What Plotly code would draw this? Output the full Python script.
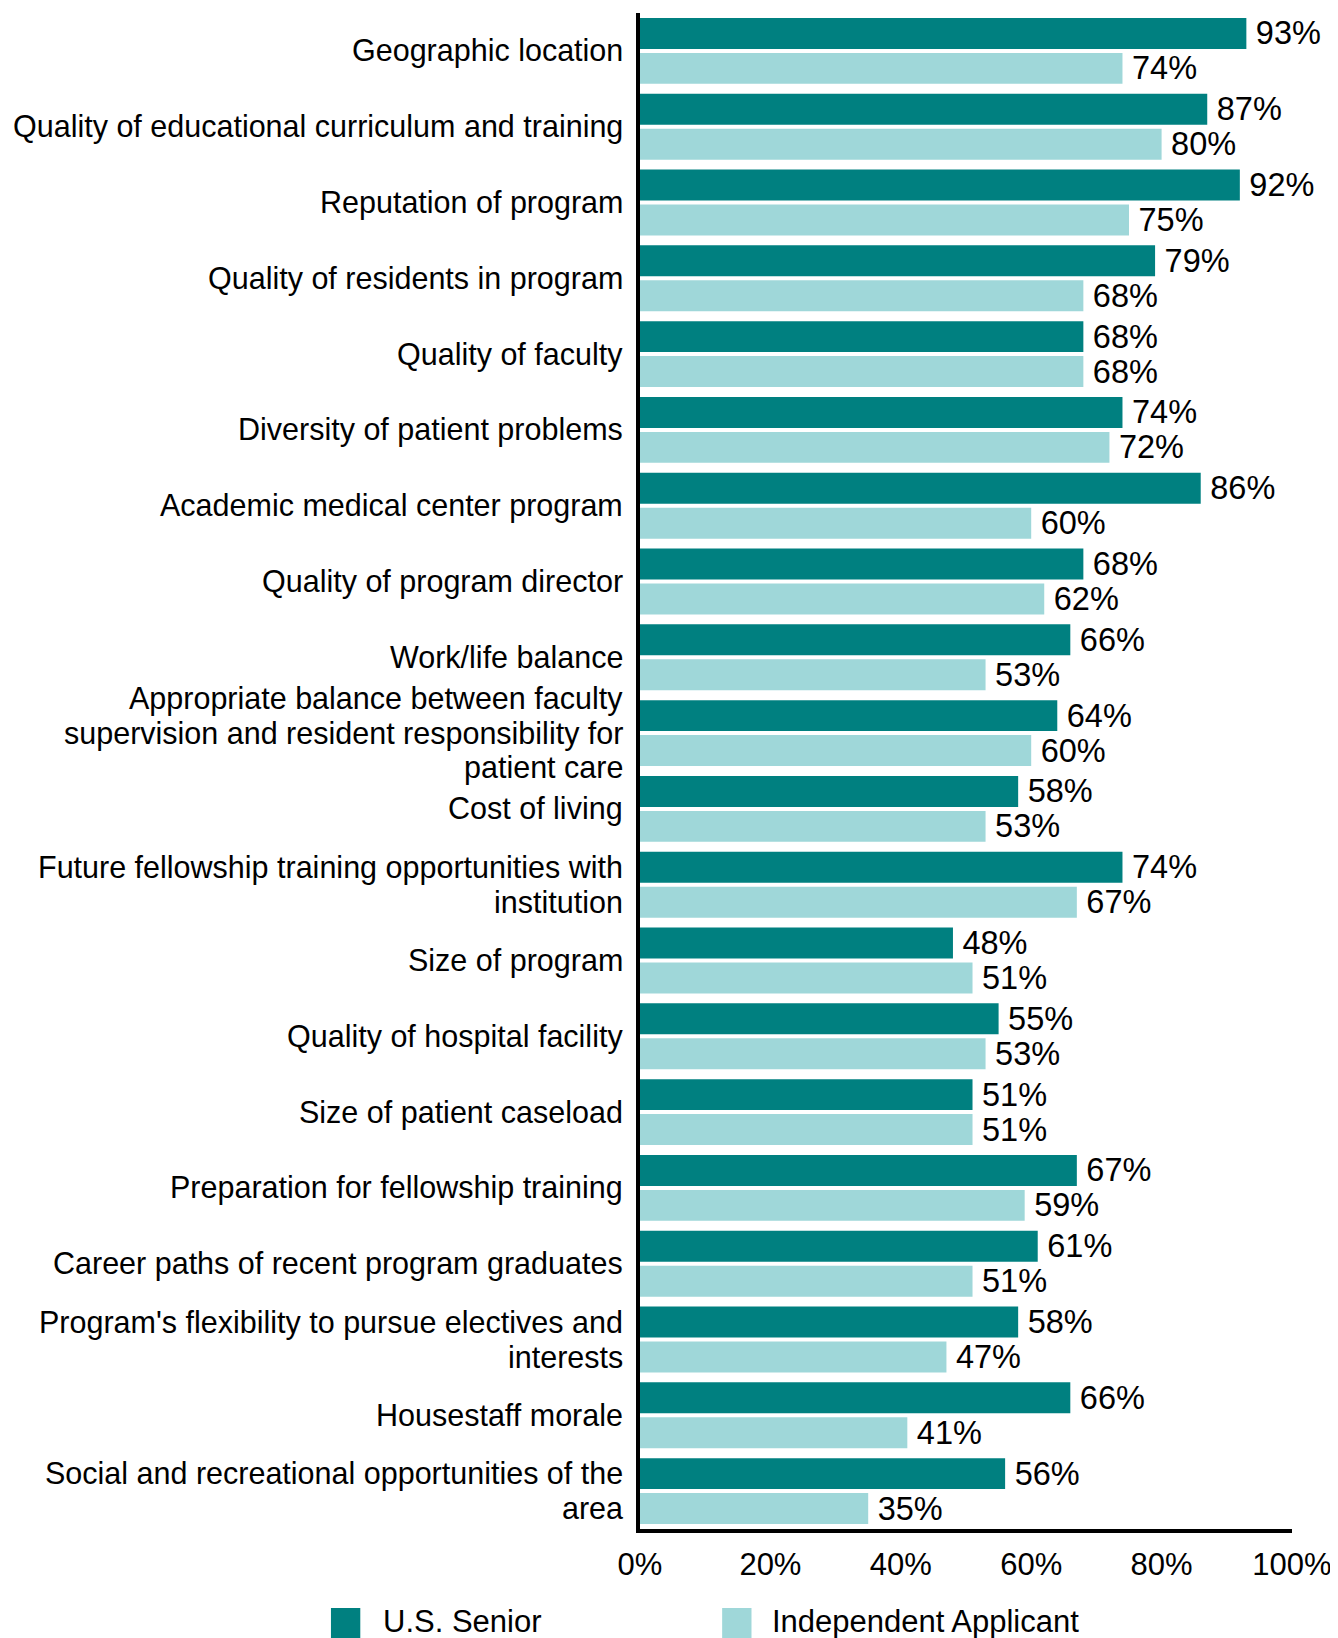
import plotly.graph_objects as go

categories = [
    "Geographic location",
    "Quality of educational curriculum and training",
    "Reputation of program",
    "Quality of residents in program",
    "Quality of faculty",
    "Diversity of patient problems",
    "Academic medical center program",
    "Quality of program director",
    "Work/life balance",
    "Appropriate balance between faculty<br>supervision and resident responsibility for<br>patient care",
    "Cost of living",
    "Future fellowship training opportunities with<br>institution",
    "Size of program",
    "Quality of hospital facility",
    "Size of patient caseload",
    "Preparation for fellowship training",
    "Career paths of recent program graduates",
    "Program's flexibility to pursue electives and<br>interests",
    "Housestaff morale",
    "Social and recreational opportunities of the<br>area",
]
us_senior = [93, 87, 92, 79, 68, 74, 86, 68, 66, 64, 58, 74, 48, 55, 51, 67, 61, 58, 66, 56]
independent = [74, 80, 75, 68, 68, 72, 60, 62, 53, 60, 53, 67, 51, 53, 51, 59, 51, 47, 41, 35]
series_names = ["U.S. Senior", "Independent Applicant"]
x_ticks = [0, 20, 40, 60, 80, 100]
x_tick_labels = ["0%", "20%", "40%", "60%", "80%", "100%"]

DARK = "#008080"
LIGHT = "#9fd7d9"
FONT = "Liberation Sans, Arial, sans-serif"
LABEL_SIZE = 30.5
LINE_PX = 34.5

fig = go.Figure()
for name, vals, col in [(series_names[0], us_senior, DARK), (series_names[1], independent, LIGHT)]:
    fig.add_trace(go.Bar(
        y=categories, x=vals, name=name, orientation="h",
        marker=dict(color=col, line=dict(width=0)),
        text=["\u2009" + f"{v}%" for v in vals],
        textposition="outside", constraintext="none", cliponaxis=False,
        textfont=dict(family=FONT, size=32.5, color="black"),
        showlegend=False,
    ))

fig.update_layout(
    width=1330, height=1630,
    margin=dict(l=632, r=46, t=5, b=109, autoexpand=False),
    barmode="group", bargap=0.078, bargroupgap=0.115,
    plot_bgcolor="white", paper_bgcolor="white",
    font=dict(family=FONT, size=LABEL_SIZE, color="black"),
    xaxis=dict(range=[0, 100], tickvals=x_ticks, ticktext=x_tick_labels,
               showgrid=False, zeroline=False, showline=True, linecolor="black",
               linewidth=4, ticks="", tickfont=dict(size=31), ticklabelstandoff=5),
    yaxis=dict(autorange="reversed", showgrid=False, zeroline=False, showline=True,
               linecolor="black", linewidth=4, ticks="", showticklabels=False),
)

# category labels, one text per line for tighter line spacing
for cat in categories:
    lines = cat.split("<br>")
    n = len(lines)
    for i, ln in enumerate(lines):
        fig.add_annotation(xref="paper", yref="y", x=0, y=cat, text=ln,
                           showarrow=False, xanchor="right", yanchor="middle",
                           xshift=-15, yshift=((n - 1) / 2 - i) * LINE_PX,
                           font=dict(family=FONT, size=LABEL_SIZE, color="black"))

# manual legend (larger swatches as in the reference)
legend_items = [(series_names[0], DARK, -0.474, -0.397), (series_names[1], LIGHT, 0.126, 0.199)]
for name, col, x0, xt in legend_items:
    fig.add_shape(type="rect", xref="paper", yref="paper", x0=x0, x1=x0 + 0.045,
                  y0=-0.0725, y1=-0.0521, fillcolor=col, line=dict(width=0))
    fig.add_annotation(xref="paper", yref="paper", x=xt, y=-0.0613, text=name,
                       showarrow=False, xanchor="left", yanchor="middle",
                       font=dict(family=FONT, size=31, color="black"))

fig.write_html("out.html")
